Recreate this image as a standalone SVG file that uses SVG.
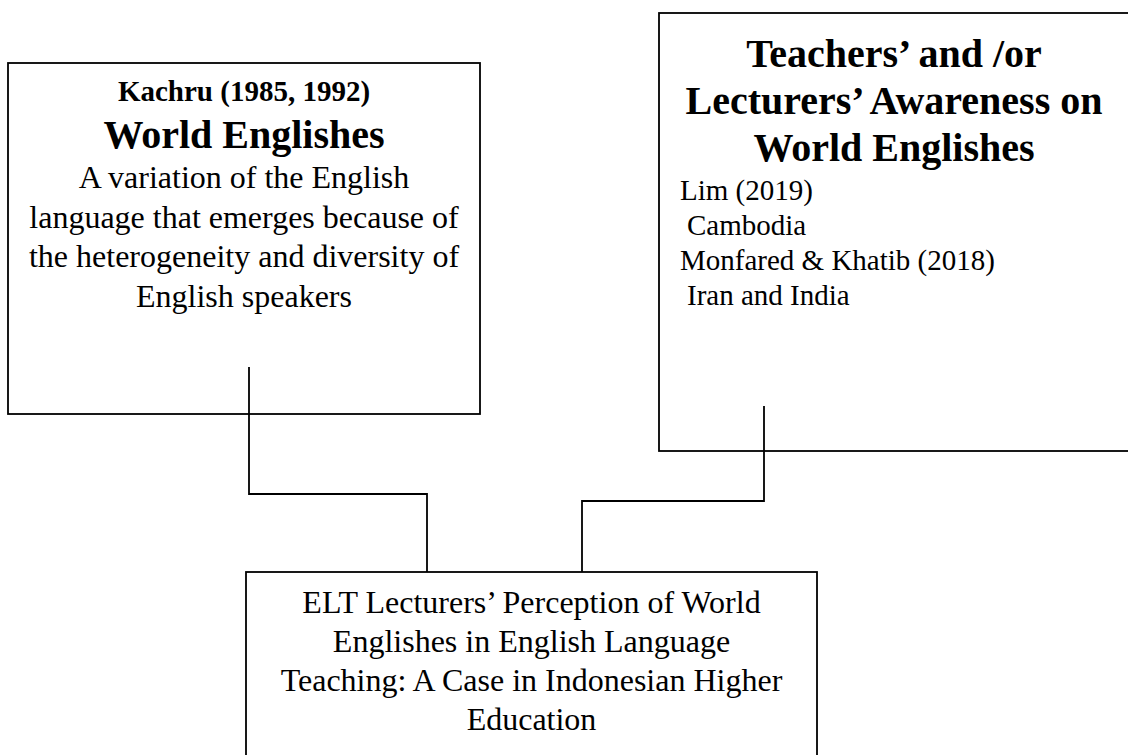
<svg xmlns="http://www.w3.org/2000/svg" width="1128" height="755" viewBox="0 0 1128 755">
  <style>
    .box { fill: #ffffff; stroke: #000000; stroke-width: 1.8; }
    .wire { fill: none; stroke: #000000; stroke-width: 1.8; }
    text { font-family: "Liberation Serif", "Times New Roman", serif; fill: #000000; }
    .c { text-anchor: middle; }
    .head { font-weight: bold; font-size: 40px; }
    .cite { font-weight: bold; font-size: 29px; }
    .body { font-size: 32px; }
    .list { font-size: 29px; }
  </style>
  <rect width="1128" height="755" fill="#ffffff"/>

  <!-- Theory: Kachru / World Englishes -->
  <g id="node-kachru">
    <rect class="box" x="8" y="63" width="472" height="351"/>
    <text class="cite c" x="244" y="101">Kachru (1985, 1992)</text>
    <text class="head c" x="244" y="148">World Englishes</text>
    <text class="body c" x="244" y="188">A variation of the English</text>
    <text class="body c" x="244" y="227.5">language that emerges because of</text>
    <text class="body c" x="244" y="267">the heterogeneity and diversity of</text>
    <text class="body c" x="244" y="306.5">English speakers</text>
  </g>

  <!-- Prior studies on awareness -->
  <g id="node-awareness">
    <rect class="box" x="659" y="13" width="472" height="438"/>
    <text class="head c" x="894" y="67">Teachers’ and /or</text>
    <text class="head c" x="894" y="114">Lecturers’ Awareness on</text>
    <text class="head c" x="894" y="161">World Englishes</text>
    <text class="list" x="680" y="200">Lim (2019)</text>
    <text class="list" x="687" y="235">Cambodia</text>
    <text class="list" x="680" y="270">Monfared &amp; Khatib (2018)</text>
    <text class="list" x="687" y="305">Iran and India</text>
  </g>

  <!-- Research topic -->
  <g id="node-study">
    <rect class="box" x="246" y="572" width="571" height="200"/>
    <text class="body c" x="531.5" y="613">ELT Lecturers’ Perception of World</text>
    <text class="body c" x="531.5" y="652">Englishes in English Language</text>
    <text class="body c" x="531.5" y="691">Teaching: A Case in Indonesian Higher</text>
    <text class="body c" x="531.5" y="730">Education</text>
  </g>

  <!-- Elbow connectors -->
  <g id="connectors">
    <path class="wire" d="M249,367 V494 H427 V572"/>
    <path class="wire" d="M764,406 V501 H582 V572"/>
  </g>
</svg>
